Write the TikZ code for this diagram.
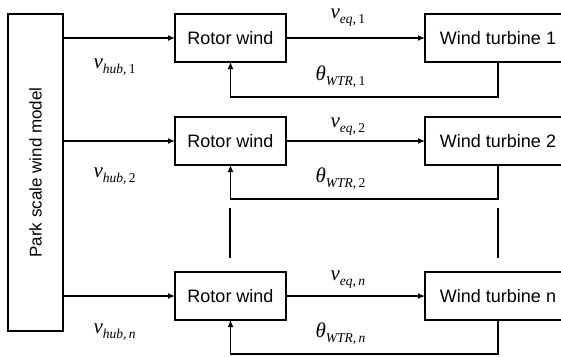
\documentclass[tikz,border=0pt]{standalone}
\usepackage{fontspec}
\setmainfont{Liberation Sans}
\newfontfamily\tnr{Liberation Serif}
\usetikzlibrary{arrows.meta}
\newcommand{\varsym}[3]{{\tnr\fontsize{21}{21}\selectfont\itshape #1}\raisebox{-5pt}{\tnr\fontsize{13.5}{13.5}\selectfont\itshape #2\upshape ,\,#3}}
\begin{document}
\begin{tikzpicture}[x=1pt,y=-1pt,line width=1.3pt,
  box/.style={draw,inner sep=0pt,outer sep=0pt,font=\fontsize{18}{18}\selectfont},
  rotor/.style={box,minimum width=111pt,minimum height=48pt},
  turb/.style={box,minimum width=146pt,minimum height=48pt},
  arr/.style={-{Latex[length=7pt,width=6pt]}},
  lab/.style={anchor=base west,inner sep=0pt}]
\useasboundingbox (0,0) rectangle (561,356);
\clip (0,0) rectangle (561,356);
% park model
\node[draw,inner sep=0pt,outer sep=0pt,minimum width=55pt,minimum height=317pt,font=\fontsize{17}{17}\selectfont] (park) at (35.5,172.5) {\rotatebox{90}{Park scale wind model}};
% rotor wind boxes
\node[rotor] (r1) at (230.5,38) {Rotor wind};
\node[rotor] (r2) at (230.5,141) {Rotor wind};
\node[rotor] (r3) at (230.5,296) {Rotor wind};
% turbine boxes
\node[turb] (t1) at (498,38) {Wind turbine 1};
\node[turb] (t2) at (498,141) {Wind turbine 2};
\node[turb] (t3) at (498,296) {Wind turbine n};
% hub wind arrows
\draw[arr] (park.east |- r1.west) -- (r1.west);
\draw[arr] (park.east |- r2.west) -- (r2.west);
\draw[arr] (park.east |- r3.west) -- (r3.west);
% equivalent wind arrows
\draw[arr] (r1.east) -- (t1.west);
\draw[arr] (r2.east) -- (t2.west);
\draw[arr] (r3.east) -- (t3.west);
% feedback
\draw[arr] (t1.south) -- ++(0,35) -| (r1.south);
\draw[arr] (t2.south) -- ++(0,34) -| (r2.south);
\draw[arr] (t3.south) -- ++(0,34) -| (r3.south);
% continuation lines
\coordinate (la) at (230,208);
\coordinate (lb) at (230,258);
\coordinate (ra) at (498,208);
\coordinate (rb) at (498,258);
\draw (la) -- (lb);
\draw (ra) -- (rb);
% labels
\node[lab] (h1) at (93,68) {\varsym{v}{hub}{1}};
\node[lab] (h2) at (93,177) {\varsym{v}{hub}{2}};
\node[lab] (h3) at (93,333) {\varsym{v}{hub}{\itshape n}};
\node[lab] (e1) at (330,18) {\varsym{v}{eq}{1}};
\node[lab] (e2) at (330,127) {\varsym{v}{eq}{2}};
\node[lab] (e3) at (330,280) {\varsym{v}{eq}{\itshape n}};
\node[lab] (w1) at (315,80) {\varsym{θ}{WTR}{1}};
\node[lab] (w2) at (315,182) {\varsym{θ}{WTR}{2}};
\node[lab] (w3) at (315,337) {\varsym{θ}{WTR}{\itshape n}};
\end{tikzpicture}
\end{document}
